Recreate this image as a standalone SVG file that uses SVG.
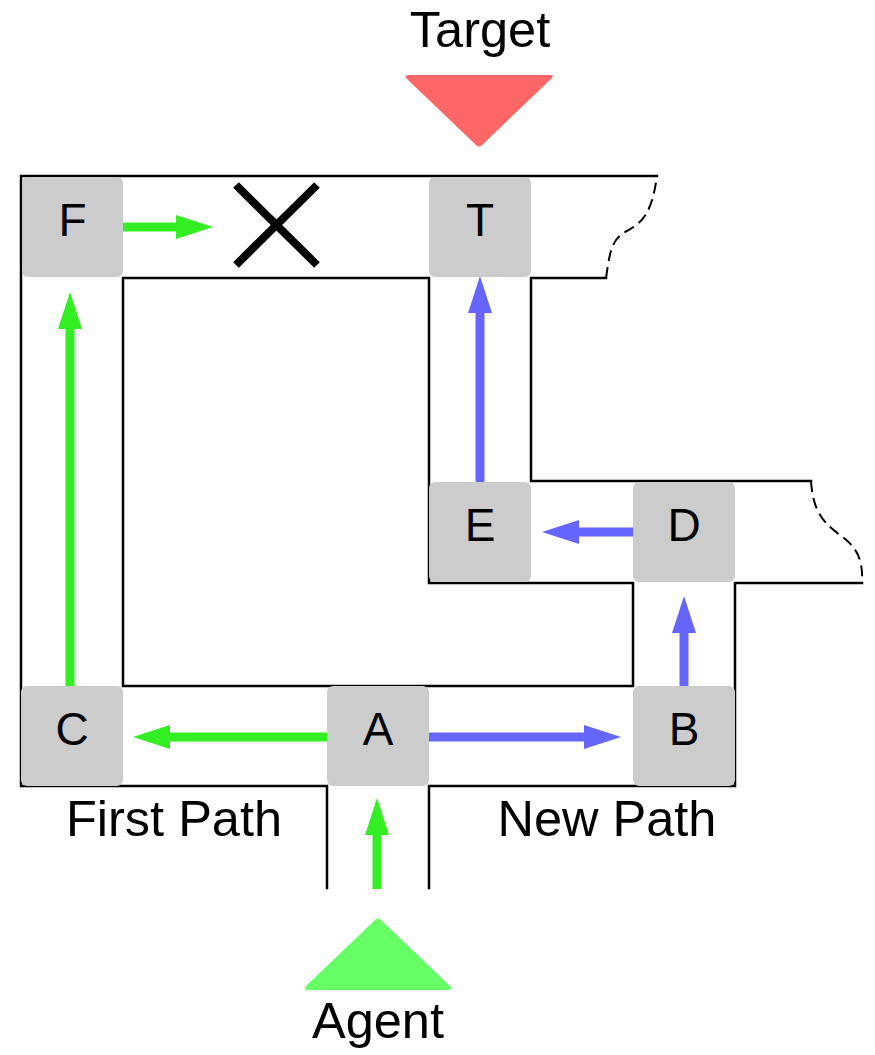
<svg xmlns="http://www.w3.org/2000/svg" width="875" height="1055" viewBox="0 0 875 1055">
<style>
.wall{fill:none;stroke:#000;stroke-width:2.5;stroke-linecap:square}
.dash{fill:none;stroke:#000;stroke-width:2;stroke-dasharray:11,6}
.box{fill:#cccccc}
.lbl{font-family:"Liberation Sans",Arial,sans-serif;font-size:46px;fill:#000;text-anchor:middle}
.cap{font-family:"Liberation Sans",Arial,sans-serif;font-size:50.5px;fill:#000;text-anchor:middle}
.g{stroke:#33ee22;stroke-width:9;fill:none}
.b{stroke:#6666ff;stroke-width:9;fill:none}
</style>
<defs>
<marker id="hg" viewBox="0 0 37 24" refX="1" refY="12" markerWidth="37" markerHeight="24" markerUnits="userSpaceOnUse" orient="auto"><path d="M0,0 L37,12 L0,24 z" fill="#33ee22"/></marker>
<marker id="hb" viewBox="0 0 37 24" refX="1" refY="12" markerWidth="37" markerHeight="24" markerUnits="userSpaceOnUse" orient="auto"><path d="M0,0 L37,12 L0,24 z" fill="#6666ff"/></marker>
</defs>
<g id="walls">
<path class="wall" d="M657,176 H21 V786 H327 V888"/>
<path class="wall" d="M429,888 V786 H735 V583 H862"/>
<path class="wall" d="M123,278 H429 V583 H633 V686 H123 Z"/>
<path class="wall" d="M606,278 H531 V481 H811"/>
<path class="dash" d="M606,278 C610,250 612,240 625,232 C645,222 652,210 657,176"/>
<path class="dash" d="M811,481 C813,510 822,522 840,535 C858,548 863,560 862,583"/>
</g>
<g id="node-F"><rect class="box" x="22" y="177" width="101" height="100" rx="6"/><text class="lbl" x="72.5" y="236">F</text></g>
<g id="node-T"><rect class="box" x="429" y="177" width="102" height="100" rx="6"/><text class="lbl" x="480" y="236">T</text></g>
<g id="node-E"><rect class="box" x="429" y="482" width="102" height="100" rx="6"/><text class="lbl" x="480" y="541">E</text></g>
<g id="node-D"><rect class="box" x="633" y="482" width="102" height="100" rx="6"/><text class="lbl" x="684" y="541">D</text></g>
<g id="node-C"><rect class="box" x="21" y="686" width="102" height="100" rx="6"/><text class="lbl" x="72" y="745">C</text></g>
<g id="node-A"><rect class="box" x="327" y="686" width="102" height="100" rx="6"/><text class="lbl" x="378" y="745">A</text></g>
<g id="node-B"><rect class="box" x="633" y="686" width="102" height="100" rx="6"/><text class="lbl" x="684" y="745">B</text></g>
<g id="blocked">
<path d="M236,185 L317,265 M317,185 L236,265" stroke="#000" stroke-width="8" fill="none"/>
</g>
<g id="target"><path d="M409,75 H551 Q554,75 552,78 L482,145 Q479,148 476,145 L406,78 Q404,75 409,75 Z" fill="#ff6666"/><text class="cap" x="480" y="47">Target</text></g>
<g id="agent"><path d="M375,920 Q378,917 381,920 L450,986 Q453,990 448,990 H308 Q303,990 306,986 Z" fill="#66ff66"/><text class="cap" x="378" y="1038">Agent</text></g>
<g id="captions">
<text class="cap" x="174" y="836">First Path</text>
<text class="cap" x="607" y="836">New Path</text>
</g>
<g id="connectors">
<line class="g" x1="123" y1="227" x2="177" y2="227" marker-end="url(#hg)"/>
<line class="g" x1="70" y1="686" x2="70" y2="328" marker-end="url(#hg)"/>
<line class="g" x1="327" y1="737" x2="169" y2="737" marker-end="url(#hg)"/>
<line class="g" x1="377" y1="889" x2="377" y2="834" marker-end="url(#hg)"/>
<line class="b" x1="429" y1="737" x2="585" y2="737" marker-end="url(#hb)"/>
<line class="b" x1="684" y1="686" x2="684" y2="632" marker-end="url(#hb)"/>
<line class="b" x1="633" y1="532" x2="578" y2="532" marker-end="url(#hb)"/>
<line class="b" x1="480" y1="482" x2="480" y2="312" marker-end="url(#hb)"/>
</g>
</svg>
